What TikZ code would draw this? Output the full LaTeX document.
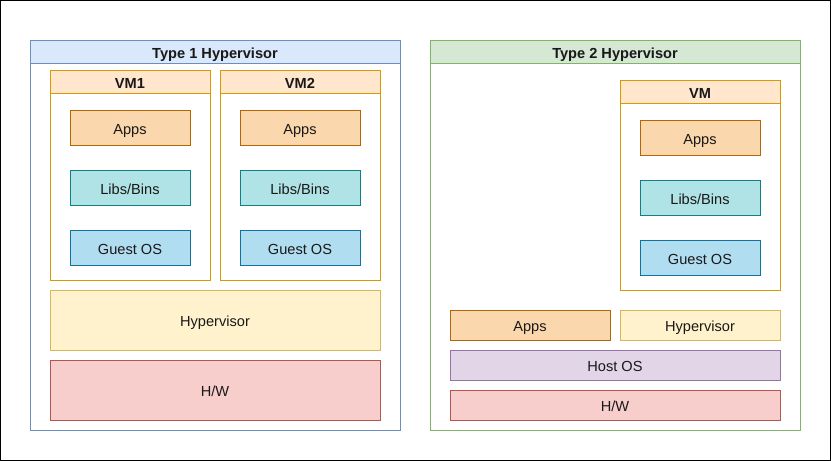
\documentclass[tikz,border=0pt]{standalone}
\usepackage{fontspec}
\setmainfont{Liberation Sans}
\definecolor{blueline}{HTML}{6C8EBF}
\definecolor{bluefill}{HTML}{DAE8FC}
\definecolor{greenline}{HTML}{82B366}
\definecolor{greenfill}{HTML}{D5E8D4}
\definecolor{vmline}{HTML}{D79B00}
\definecolor{vmfill}{HTML}{FFE6CC}
\definecolor{appsline}{HTML}{B46504}
\definecolor{appsfill}{HTML}{FAD7AC}
\definecolor{libsline}{HTML}{0E8088}
\definecolor{libsfill}{HTML}{B0E3E6}
\definecolor{guestline}{HTML}{10739E}
\definecolor{guestfill}{HTML}{B1DDF0}
\definecolor{hypline}{HTML}{D6B656}
\definecolor{hypfill}{HTML}{FFF2CC}
\definecolor{hwline}{HTML}{B85450}
\definecolor{hwfill}{HTML}{F8CECC}
\definecolor{hostline}{HTML}{9673A6}
\definecolor{hostfill}{HTML}{E1D5E7}
\begin{document}
\begin{tikzpicture}[x=1pt,y=-1pt,
    box/.style={draw, line width=1pt, inner sep=0pt, outer sep=0pt, text=black!90, text height=14pt, text depth=1pt, font=\fontsize{14.6}{17}\selectfont},
    head/.style={box, font=\fontsize{14.6}{17}\selectfont\bfseries},
    small/.style={box, minimum width=120pt, minimum height=35pt},
    vmbody/.style={box, draw=vmline, minimum width=160pt, minimum height=210pt},
    vmhead/.style={head, draw=vmline, fill=vmfill, minimum width=160pt, minimum height=23pt},
    apps/.style={small, draw=appsline, fill=appsfill},
    libs/.style={small, draw=libsline, fill=libsfill},
    guest/.style={small, draw=guestline, fill=guestfill}]
    \useasboundingbox (0,0) rectangle (831,461);
    \draw [black, line width=1pt] (0.5,0.5) rectangle (830.5,460.5);
    \node [box, draw=blueline, minimum width=370pt, minimum height=390pt] (t1) at (215,235) {};
    \node [head, draw=blueline, fill=bluefill, minimum width=370pt, minimum height=23pt] (t1head) at (215,51.5) {Type 1 Hypervisor};
    \node [vmbody] (vm1) at (130,175) {};
    \node [vmhead] (vm1head) at (130,81.5) {VM1};
    \node [apps] (apps1) at (130,127.5) {Apps};
    \node [libs] (libs1) at (130,187.5) {Libs/Bins};
    \node [guest] (guest1) at (130,247.5) {Guest OS};
    \node [vmbody] (vm2) at (300,175) {};
    \node [vmhead] (vm2head) at (300,81.5) {VM2};
    \node [apps] (apps2) at (300,127.5) {Apps};
    \node [libs] (libs2) at (300,187.5) {Libs/Bins};
    \node [guest] (guest2) at (300,247.5) {Guest OS};
    \node [box, draw=hypline, fill=hypfill, minimum width=330pt, minimum height=60pt] (hyp1) at (215,320) {Hypervisor};
    \node [box, draw=hwline, fill=hwfill, minimum width=330pt, minimum height=60pt] (hw1) at (215,390) {H/W};
    \node [box, draw=greenline, minimum width=370pt, minimum height=390pt] (t2) at (615,235) {};
    \node [head, draw=greenline, fill=greenfill, minimum width=370pt, minimum height=23pt] (t2head) at (615,51.5) {Type 2 Hypervisor};
    \node [vmbody] (vm3) at (700,185) {};
    \node [vmhead] (vm3head) at (700,91.5) {VM};
    \node [apps] (apps3) at (700,137.5) {Apps};
    \node [libs] (libs3) at (700,197.5) {Libs/Bins};
    \node [guest] (guest3) at (700,257.5) {Guest OS};
    \node [box, draw=appsline, fill=appsfill, minimum width=160pt, minimum height=30pt] (apps4) at (530,325) {Apps};
    \node [box, draw=hypline, fill=hypfill, minimum width=160pt, minimum height=30pt] (hyp2) at (700,325) {Hypervisor};
    \node [box, draw=hostline, fill=hostfill, minimum width=330pt, minimum height=30pt] (host) at (615,365) {Host OS};
    \node [box, draw=hwline, fill=hwfill, minimum width=330pt, minimum height=30pt] (hw2) at (615,405) {H/W};
\end{tikzpicture}
\end{document}
